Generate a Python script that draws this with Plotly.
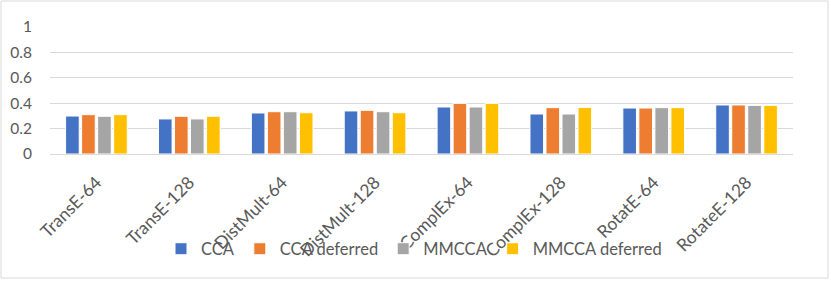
import plotly.graph_objects as go

categories = ["TransE-64", "TransE-128", "DistMult-64", "DistMult-128",
              "ComplEx-64", "ComplEx-128", "RotatE-64", "RotateE-128"]
cca = [0.299, 0.276, 0.323, 0.339, 0.370, 0.315, 0.362, 0.386]
cca_deferred = [0.310, 0.297, 0.333, 0.344, 0.399, 0.365, 0.362, 0.386]
mmcca = [0.297, 0.276, 0.333, 0.333, 0.370, 0.315, 0.365, 0.383]
mmcca_deferred = [0.310, 0.297, 0.325, 0.325, 0.399, 0.367, 0.365, 0.383]
y_ticks = [0, 0.2, 0.4, 0.6, 0.8, 1]
y_tick_labels = ["0", "0.2", "0.4", "0.6", "0.8", "1"]

series = [
    ("CCA", cca, "#4472C4"),
    ("CCA deferred", cca_deferred, "#ED7D31"),
    ("MMCCA", mmcca, "#A5A5A5"),
    ("MMCCA deferred", mmcca_deferred, "#FFC000"),
]

FONT = "Lato, 'Liberation Sans', Arial, sans-serif"
W, H = 831, 281
L, R, T, B = 50, 38, 27, 127

fig = go.Figure()
for name, vals, col in series:
    fig.add_trace(go.Bar(x=categories, y=vals, name=name,
                         marker=dict(color=col, line=dict(color="white", width=1))))

pw = W - L - R
ph = H - T - B
fig.add_shape(type="rect", xref="paper", yref="paper",
              x0=(1 - L) / pw, x1=(828 - L) / pw,
              y0=(H - B - 278) / ph, y1=(H - B - 1) / ph,
              line=dict(color="#d9d9d9", width=1), fillcolor="rgba(0,0,0,0)", layer="below")

fig.update_layout(
    width=W, height=H,
    margin=dict(l=L, r=R, t=T, b=B, autoexpand=False),
    paper_bgcolor="white", plot_bgcolor="white",
    barmode="group", bargap=0.31, bargroupgap=0.15,
    font=dict(family=FONT, size=14, color="#595959"),
    legend=dict(orientation="h", x=(414 - L) / pw, xanchor="center",
                y=(H - B - 249) / ph, yanchor="middle",
                font=dict(size=16.5, color="#595959"), bgcolor="rgba(0,0,0,0)",
                itemwidth=30, traceorder="normal"),
    xaxis=dict(tickangle=-45, showgrid=False, showline=False, ticks="",
               ticklabelstandoff=14,
               tickfont=dict(size=17.5, color="#595959")),
    yaxis=dict(range=[0, 1], tickvals=y_ticks, ticktext=y_tick_labels,
               showgrid=True, gridcolor="#d9d9d9", gridwidth=1,
               zeroline=True, zerolinecolor="#d9d9d9", zerolinewidth=1,
               showline=False, ticks="", ticklabelstandoff=17,
               tickfont=dict(size=15.5, color="#595959")),
    showlegend=True,
)
fig.write_html("out.html", config={"displayModeBar": False},
               post_script="document.body.style.margin='0';document.body.style.overflow='hidden';")
